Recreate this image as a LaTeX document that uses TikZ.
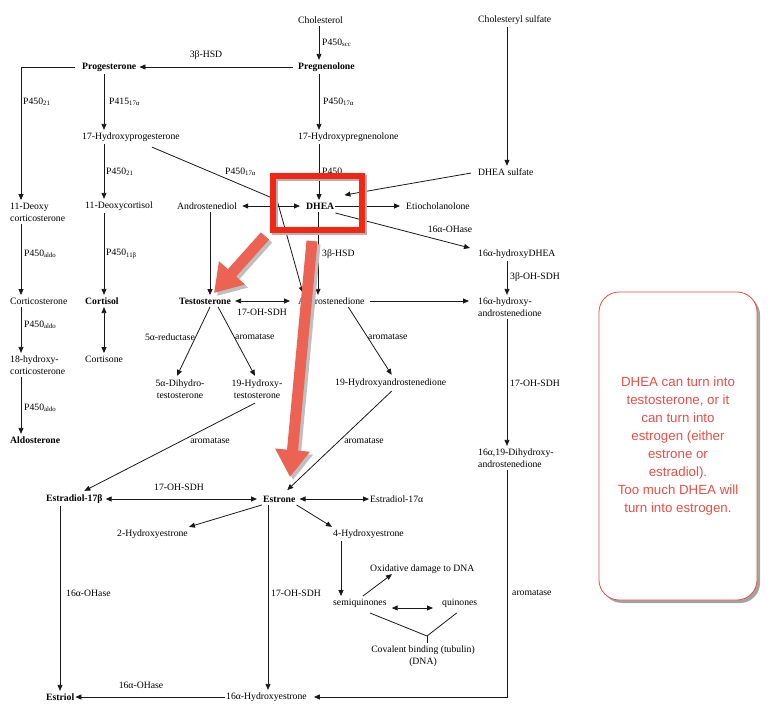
\documentclass[tikz,border=0pt]{standalone}
\usepackage{fontspec}
\setmainfont{Liberation Serif}
\newfontfamily\notefont{Liberation Sans}
\usetikzlibrary{arrows.meta,calc,shadows}
\definecolor{hlred}{RGB}{242,38,18}
\definecolor{salmon}{RGB}{236,99,84}
\definecolor{notered}{RGB}{232,80,70}
\definecolor{ink}{RGB}{25,25,25}
\begin{document}
\begin{tikzpicture}[x=1pt,y=-1pt,
  >={Triangle[length=6pt,width=5pt]},
  txt/.style={font=\fontsize{9.7}{12}\selectfont, inner xsep=1pt, inner ysep=2.5pt, anchor=west, align=left},
  btxt/.style={txt, font=\fontsize{9.7}{12}\selectfont\bfseries},
  ctxt/.style={txt, anchor=center, align=center},
  lbl/.style={font=\fontsize{9.7}{12}\selectfont, inner sep=0pt, anchor=west},
  clbl/.style={lbl, anchor=center},
  con/.style={draw=ink, line width=0.8pt},
  arr/.style={con, ->},
  dbl/.style={con, <->},
  bigarrow/.style={line width=11pt, draw=salmon, -{Triangle[length=27pt,width=33pt]}},
  bigshadow/.style={line width=11pt, draw=black!25, -{Triangle[length=27pt,width=33pt]}}]
\useasboundingbox (0,0) rectangle (777,711);

% column coordinates
\coordinate (cA) at (319,0);
\coordinate (cB) at (104,0);
\coordinate (cC) at (21,0);
\coordinate (cD) at (507,0);
\coordinate (cE) at (210,0);
\coordinate (cF) at (318,0);
\coordinate (cG) at (341,0);
\coordinate (cH) at (268,0);
\coordinate (cI) at (60,0);

% nodes
\node[txt] (chol) at (297,20) {Cholesterol};
\node[btxt] (preg) at (297,67) {Pregnenolone};
\node[btxt] (prog) at (81,67) {Progesterone};
\node[txt] (ohpreg) at (297,137) {17-Hydroxypregnenolone};
\node[txt] (ohprog) at (81,137) {17-Hydroxyprogesterone};
\node[btxt] (dhea) at (305,206) {DHEA};
\node[txt] (adiol) at (176,206) {Androstenediol};
\node[txt] (etio) at (405,206) {Etiocholanolone};
\node[txt] (cholsulf) at (477,20) {Cholesteryl sulfate};
\node[txt] (dheas) at (477,172) {DHEA sulfate};
\node[txt] (ohdhea) at (477,254) {16α-hydroxyDHEA};
\node[txt] (ohandro) at (477,307) {16α-hydroxy-\\androstenedione};
\node[txt] (dihandro) at (477,458) {16α,19-Dihydroxy-\\androstenedione};
\node[txt] (doc) at (9,212) {11-Deoxy\\corticosterone};
\node[txt] (docort) at (84,206) {11-Deoxycortisol};
\node[txt] (cortico) at (9,301) {Corticosterone};
\node[btxt] (cortisol) at (84,301) {Cortisol};
\node[txt] (hcortico) at (9,365) {18-hydroxy-\\corticosterone};
\node[txt] (cortisone) at (84,359) {Cortisone};
\node[btxt] (aldo) at (9,440) {Aldosterone};
\node[btxt] (testo) at (178,301) {Testosterone};
\node[txt] (andro) at (297,301) {Androstenedione};
\node[ctxt] (dht) at (180,389) {5α-Dihydro-\\testosterone};
\node[ctxt] (ohtesto) at (257,389) {19-Hydroxy-\\testosterone};
\node[txt] (ohandro19) at (334,383) {19-Hydroxyandrostenedione};
\node[btxt] (e2b) at (45,499) {Estradiol-17β};
\node[btxt] (e1) at (262,499) {Estrone};
\node[txt] (e2a) at (369,499) {Estradiol-17α};
\node[txt] (ohe2) at (116,534) {2-Hydroxyestrone};
\node[txt] (ohe4) at (332,534) {4-Hydroxyestrone};
\node[txt] (semi) at (332,603) {semiquinones};
\node[txt] (quin) at (441,603) {quinones};
\node[txt] (oxdam) at (369,569) {Oxidative damage to DNA};
\node[ctxt] (cov) at (423,656) {Covalent binding (tubulin)\\(DNA)};
\node[btxt] (estriol) at (45,697) {Estriol};
\node[txt] (ohe16) at (225,697) {16α-Hydroxyestrone};

% labels
\node[lbl] (l1) at (322,43) {P450\textsubscript{scc}};
\node[clbl] (l2) at (206,55) {3β-HSD};
\node[lbl] (l3) at (23,102) {P450\textsubscript{21}};
\node[lbl] (l4) at (109,102) {P415\textsubscript{17α}};
\node[lbl] (l5) at (323,102) {P450\textsubscript{17α}};
\node[lbl] (l6) at (106,172) {P450\textsubscript{21}};
\node[lbl] (l7) at (225,172) {P450\textsubscript{17α}};
\node[lbl] (l8) at (322,171) {P450};
\node[clbl] (l9) at (450,229) {16α-OHase};
\node[lbl] (l10) at (510,277) {3β-OH-SDH};
\node[lbl] (l11) at (24,254) {P450\textsubscript{aldo}};
\node[lbl] (l12) at (106,254) {P450\textsubscript{11β}};
\node[lbl] (l13) at (322,254) {3β-HSD};
\node[lbl] (l14) at (24,325) {P450\textsubscript{aldo}};
\node[clbl] (l15) at (262,312) {17-OH-SDH};
\node[lbl, anchor=east] (l16) at (195,337) {5α-reductase};
\node[lbl] (l17) at (235,337) {aromatase};
\node[lbl] (l18) at (368,337) {aromatase};
\node[lbl] (l19) at (510,383) {17-OH-SDH};
\node[lbl] (l20) at (24,408) {P450\textsubscript{aldo}};
\node[clbl] (l21) at (210,441) {aromatase};
\node[clbl] (l22) at (364,441) {aromatase};
\node[clbl] (l23) at (179,487) {17-OH-SDH};
\node[lbl] (l24) at (66,593) {16α-OHase};
\node[lbl] (l25) at (271,593) {17-OH-SDH};
\node[lbl] (l26) at (512,593) {aromatase};
\node[clbl] (l27) at (141,685) {16α-OHase};

% connectors
\draw[arr] (chol.south -| cA) -- (preg.north -| cA);
\draw[arr, shorten <=4pt, shorten >=2pt] (preg.west) -- (prog.east);
\draw[arr, shorten <=6pt] (prog.west) -| (doc.north -| cC);
\draw[arr] (prog.south -| cB) -- (ohprog.north -| cB);
\draw[arr] (preg.south -| cA) -- (ohpreg.north -| cA);
\draw[arr] (ohpreg.south -| cA) -- (dhea.north -| cA);
\draw[arr] (ohprog.south -| cB) -- (docort.north -| cB);
\draw[arr] (docort.south -| cB) -- (cortisol.north -| cB);
\draw[dbl] (cortisol.south -| cB) -- (cortisone.north -| cB);
\draw[arr] (doc.south -| cC) -- (cortico.north -| cC);
\draw[arr] (cortico.south -| cC) -- (hcortico.north -| cC);
\draw[arr] (hcortico.south -| cC) -- (aldo.north -| cC);
\draw[arr] (cholsulf.south -| cD) -- (dheas.north -| cD);
\draw[arr, shorten <=6pt] (dheas.west) -- ($(dhea.north east)+(9,-5)$);
\draw[arr, shorten >=5pt] (dhea.east) -- (etio.west);
\draw[dbl, shorten <=4pt, shorten >=5pt] (adiol.east) -- (dhea.west);
\draw[arr] ($(dhea.east)+(0,7)$) -- ($(ohdhea.west)+(-7,-6)$);
\draw[arr] (ohdhea.south -| cD) -- (ohandro.north -| cD);
\draw[arr, shorten <=4pt, shorten >=8pt] (andro.east) -- (andro.east -| ohandro.west);
\draw[arr] (ohandro.south -| cD) -- (dihandro.north -| cD);
\draw[arr, shorten >=6pt] (dihandro.south -| cD) |- (ohe16.east);
\draw[arr] (dhea.south -| cF) -- (andro.north -| cF);
\coordinate (kink) at (277,200);
\draw[arr] ($(ohprog.south east)+(-29,3)$) -- (kink) -- ($(andro.north west)+(6,-2)$);
\draw[arr] (adiol.south -| cE) -- (testo.north -| cE);
\draw[dbl, shorten <=3pt, shorten >=7pt] (testo.east) -- (andro.west);
\draw[arr] ($(testo.south)+(5,0)$) -- ($(dht.north)+(-3,-1)$);
\draw[arr] ($(testo.south)+(13,0)$) -- ($(ohtesto.north)+(-2,-1)$);
\draw[arr] ($(andro.south)+(17,0)$) -- ($(ohandro19.north)+(1,-1)$);
\draw[arr] ($(ohtesto.south)+(-2,2)$) -- ($(e2b.north)+(10,-1)$);
\draw[arr] ($(ohandro19.south)+(1,1)$) -- ($(e1.north)+(8,-3)$);
\draw[dbl, shorten <=2pt, shorten >=5pt] (e2b.east) -- (e1.west);
\draw[dbl, shorten <=3pt] (e1.east) -- (e2a.west);
\draw[arr] (e1.south west) -- (ohe2.north east);
\draw[arr] (e1.south east) -- (ohe4.north west);
\draw[arr] (ohe4.south -| cG) -- (semi.north -| cG);
\draw[arr] ($(semi.north)+(3,0)$) -- ($(oxdam.south west)+(23,-2)$);
\draw[dbl] ($(semi.east)+(4,5)$) -- ($(quin.west)+(-8,5)$);
\coordinate (cj) at (427,636);
\draw[con] ($(semi.south)+(10,3)$) -- (cj) -- ($(quin.south)+(-3,3)$);
\draw[con] (cj) -- (cj |- cov.north);
\draw[arr] (e1.south -| cH) -- (ohe16.north -| cH);
\draw[arr] (e2b.south -| cI) -- (estriol.north -| cI);
\draw[arr] (ohe16.west) -- (estriol.east);

% highlight box round DHEA
\draw[black!30, line width=6pt] (275,178) rectangle (364,232);
\draw[hlred, line width=6pt] (273,176) rectangle (362,230);

% big red arrows
\coordinate (raAs) at (265,236);
\coordinate (raAe) at (214,293);
\coordinate (raBs) at (312,241);
\coordinate (raBe) at (290,477);
\draw[bigshadow] ($(raAs)+(3,3)$) -- ($(raAe)+(3,3)$);
\draw[bigarrow] (raAs) -- (raAe);
\draw[bigshadow] ($(raBs)+(3,3)$) -- ($(raBe)+(3,3)$);
\draw[bigarrow] (raBs) -- (raBe);

% note
\node[draw=notered, line width=0.8pt, fill=white, rounded corners=20pt,
  minimum width=158pt, minimum height=308pt,
  drop shadow={shadow xshift=3pt, shadow yshift=-3pt, fill=black!60, opacity=0.6},
  font=\notefont\fontsize{13.3}{18}\selectfont, text=notered, align=center] (note) at (678,446)
  {DHEA can turn into\\testosterone, or it\\can turn into\\estrogen (either\\estrone or\\estradiol).\\Too much DHEA will\\turn into estrogen.};
\end{tikzpicture}
\end{document}
